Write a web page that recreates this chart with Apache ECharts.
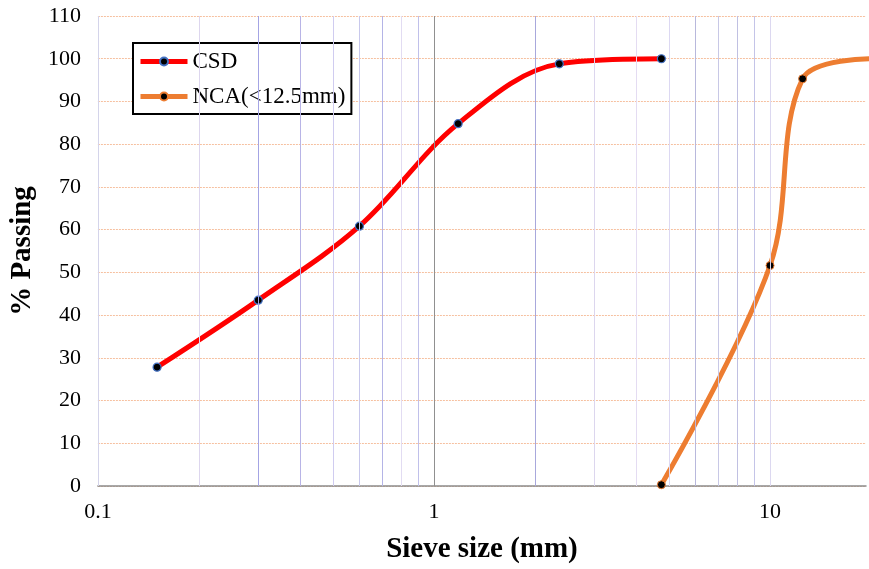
<!DOCTYPE html>
<html><head><meta charset="utf-8">
<script src="https://cdn.jsdelivr.net/npm/echarts@6/dist/echarts.min.js"></script>
<style>html,body{margin:0;padding:0;background:#fff}#c{width:869px;height:569px}</style>
</head><body><div id="c"></div>
<script>
var csdX = [0.15, 0.3, 0.6, 1.18, 2.36, 4.75];
var csdY = [27.8, 43.5, 60.8, 84.8, 98.8, 100];
var ncaX = [4.75, 10, 12.5, 20];
var ncaY = [0.3, 51.6, 95.3, 100];
var xTickLabels = [0.1, 1, 10];
var gridX = [0.1,0.2,0.3,0.4,0.5,0.6,0.7,0.8,0.9,1,2,3,4,5,6,7,8,9,10];
var gridColors = ['#d4d4ea','#ddd6ee','#a4a4e4','#b8b4e6','#d0ccf0','#c8c8ec','#b4b4e6','#e2dcf2','#c0c0ea','#909090',
                  '#a8a8dc','#dcd6ee','#e4dcf2','#dcd8f2','#b8b8dc','#c8c8e6','#c0c0e2','#c4c4e8','#dcd8f0'];

function pairs(xs, ys){ return xs.map(function(x,i){return [x, ys[i]];}); }

var font = 'Liberation Serif, Times New Roman, serif';
var chart = echarts.init(document.getElementById('c'));
chart.setOption({
  animation: false,
  backgroundColor: '#fff',
  grid: {left: 97, right: 0, top: 16, bottom: 80, containLabel: false},
  legend: {
    orient: 'vertical', left: 133, top: 43,
    borderColor: '#000', borderWidth: 2, backgroundColor: '#fff',
    padding: [7, 6, 6, 5], itemGap: 12, itemWidth: 47, itemHeight: 10,
    lineStyle: {width: 5},
    textStyle: {fontFamily: font, fontSize: 23, color: '#000'},
    data: ['CSD', 'NCA(<12.5mm)']
  },
  xAxis: {
    type: 'log', logBase: 10, min: 0.1, max: 19.3,
    name: 'Sieve size (mm)', nameLocation: 'middle', nameGap: 49,
    nameTextStyle: {fontFamily: font, fontSize: 29, fontWeight: 'bold', color: '#000'},
    axisLine: {show: true, lineStyle: {color: '#8c8c8c', width: 1.5}},
    axisTick: {show: false},
    splitLine: {show: false},
    axisLabel: {
      fontFamily: font, fontSize: 22, color: '#000', margin: 15,
      formatter: function(v){ for (var i=0;i<xTickLabels.length;i++){ if (Math.abs(v - xTickLabels[i]) < 1e-6*xTickLabels[i]) return String(xTickLabels[i]); } return ''; }
    }
  },
  yAxis: {
    type: 'value', min: 0, max: 110, interval: 10,
    name: '% Passing', nameLocation: 'middle', nameGap: 56,
    nameTextStyle: {fontFamily: font, fontSize: 29, fontWeight: 'bold', color: '#000'},
    axisLine: {show: false}, axisTick: {show: false},
    axisLabel: {fontFamily: font, fontSize: 22, color: '#000', margin: 17},
    splitLine: {show: true, lineStyle: {color: '#f6c0a0', width: 1, type: [2, 1]}}
  },
  series: [
    {
      name: 'grid', type: 'line', data: [], silent: true,
      markLine: {
        silent: true, symbol: 'none', label: {show: false}, animation: false,
        data: gridX.map(function(x, i){ return {xAxis: x, lineStyle: {color: gridColors[i], width: 1, type: 'solid'}}; })
      },
      z: 1
    },
    {
      name: 'CSD', type: 'line', smooth: 0.35, data: pairs(csdX, csdY),
      lineStyle: {color: '#ff0000', width: 5}, itemStyle: {color: '#000', borderColor: '#4472c4', borderWidth: 1.2},
      symbol: 'circle', symbolSize: 8, z: 3
    },
    {
      name: 'NCA(<12.5mm)', type: 'line', smooth: 0.35, data: pairs(ncaX, ncaY),
      lineStyle: {color: '#ed7d31', width: 5}, itemStyle: {color: '#000', borderColor: '#ed7d31', borderWidth: 1},
      symbol: 'circle', symbolSize: 8, z: 3
    }
  ]
});
</script></body></html>
